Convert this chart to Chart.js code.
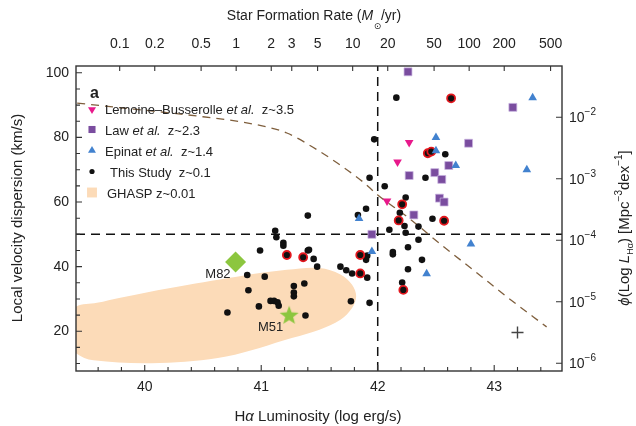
<!DOCTYPE html>
<html>
<head>
<meta charset="utf-8">
<script src="https://cdn.jsdelivr.net/npm/chart.js@4.4.0/dist/chart.umd.min.js"></script>
<style>
  html, body { margin: 0; padding: 0; background: #fff; }
  #wrap { width: 636px; height: 426px; }
</style>
</head>
<body>
<div id="wrap"><canvas id="chart" width="636" height="426"></canvas></div>
<script>
// ---- values ----
// This Study z~0.1 : log L(Halpha) vs local velocity dispersion (km/s)
const studyLum = [42.16, 41.97, 42.58, 41.93, 42.41, 42.06, 42.24, 41.90, 41.83, 42.19,
                  42.47, 42.23, 42.35, 42.10, 42.24, 42.35, 42.26, 42.13, 42.13, 41.91,
                  41.90, 42.38, 41.68, 41.73, 41.78, 41.91, 42.26, 42.21, 41.77, 41.93,
                  41.40, 41.12, 41.13, 41.19, 41.19, 40.99, 41.40, 41.41, 41.45, 41.48,
                  40.88, 41.03, 40.89, 41.28, 41.28, 41.28, 41.37, 41.08, 41.11, 41.14,
                  41.15, 40.98, 40.71, 41.38];
const studySigma = [92.3, 79.4, 74.8, 67.5, 67.5, 64.9, 61.4, 57.9, 56.0, 56.7,
                    54.8, 52.6, 52.4, 51.4, 50.5, 48.3, 46.0, 44.5, 43.8, 43.4,
                    42.1, 42.1, 40.0, 38.9, 37.9, 36.6, 39.2, 35.1, 29.3, 28.8,
                    55.8, 51.1, 49.1, 47.4, 46.5, 45.0, 45.0, 45.2, 42.4, 40.0,
                    37.4, 36.9, 32.7, 34.0, 32.0, 30.8, 34.8, 29.4, 29.4, 29.0,
                    27.9, 27.7, 25.8, 24.9];
// This Study points circled in red
const ringLum = [42.63, 42.43, 42.46, 42.21, 42.18, 42.57, 41.85, 41.85, 42.22, 41.22, 41.36];
const ringSigma = [92.1, 75.1, 75.6, 59.3, 54.3, 54.2, 43.6, 37.9, 32.8, 43.6, 42.9];
// Lemoine-Busserolle et al. z~3.5
const lemoineLum = [42.27, 42.17, 42.08];
const lemoineSigma = [78.4, 72.4, 60.3];
// Law et al. z~2.3
const lawLum = [42.26, 43.16, 42.78, 42.61, 42.27, 42.49, 42.55, 42.53, 42.57, 42.31, 41.95];
const lawSigma = [100.3, 89.3, 78.2, 71.3, 68.2, 69.1, 67.0, 61.2, 60.0, 56.0, 50.0];
// Epinat et al. z~1.4
const epinatLum = [42.50, 42.50, 42.67, 43.33, 43.28, 41.84, 42.80, 41.95, 42.42];
const epinatSigma = [80.0, 75.9, 71.3, 92.3, 70.0, 54.9, 47.0, 44.7, 37.8];
// GHASP z~0.01 region outline
const ghaspLum = [39.20, 39.41, 39.59, 39.79, 40.22, 40.79, 41.22, 41.50, 41.68, 41.78,
                  41.815, 41.78, 41.68, 41.50, 41.27, 40.70, 40.13, 39.56, 39.41, 39.20];
const ghaspSigma = [20.5, 27.6, 28.8, 30.4, 33.4, 36.9, 39.0, 39.6, 37.6, 34.4,
                    30.8, 27.2, 23.6, 20.5, 18.0, 12.2, 10.2, 11.0, 13.2, 20.5];
// local galaxies
const m82Lum = [40.78], m82Sigma = [41.4];
const m51Lum = [41.24], m51Sigma = [24.8];
// typical error bar
const errLum = [43.20], errSigma = [19.6];
// Halpha luminosity function (right axis)
const lfLum = [39.42, 39.79, 40.07, 40.50, 40.93, 41.22, 41.48, 41.65, 41.87, 42.00,
               42.25, 42.58, 42.84, 43.11, 43.45];
const lfPhi = [1.70e-2, 1.43e-2, 1.26e-2, 1.02e-2, 7.78e-3, 5.55e-3, 2.96e-3, 1.82e-3, 9.02e-4, 5.47e-4,
               2.43e-4, 7.48e-5, 3.08e-5, 1.20e-5, 3.91e-6];
// reference cuts
const lumCut = 42;
const sigmaCut = 50;
// ticks
const lumTicks = [40, 41, 42, 43];
const sigmaTicks = [20, 40, 60, 80, 100];
const phiTicks = [1e-2, 1e-3, 1e-4, 1e-5, 1e-6];
const sfrTicks = [0.1, 0.2, 0.5, 1, 2, 3, 5, 10, 20, 50, 100, 200, 500];
const sfrLabels = ['0.1', '0.2', '0.5', '1', '2', '3', '5', '10', '20', '50', '100', '200', '500'];
const sfrZeroLum = 40.785; // log L(Halpha) for 1 Msun/yr

// axis ranges
const lumMin = 39.41, lumMax = 43.582;
const sigMin = 7.7, sigMax = 102.1;
const phiMin = Math.pow(10, -6.125), phiMax = Math.pow(10, -1.166);

const FONT = '"Liberation Sans", Arial, Helvetica, sans-serif';
const TXT = '#222';
const PINK = '#e8198b', PURPLE = '#7a4d9f', BLUE = '#4282cf', GREEN = '#8cc63f';
const PEACH = '#fcdbb8', BROWN = '#7f5f3d', RED = '#e3171e';

const pts = (xs, ys) => xs.map((x, i) => ({x, y: ys[i]}));
const f = (size, style) => (style || '') + ' ' + size + 'px ' + FONT;

function starCanvas(r, color){
  const s = Math.ceil(r * 2 + 2);
  const c = document.createElement('canvas');
  c.width = s; c.height = s;
  const g = c.getContext('2d');
  g.beginPath();
  for (let i = 0; i < 10; i++){
    const a = -Math.PI / 2 + i * Math.PI / 5;
    const rr = i % 2 === 0 ? r : r * 0.42;
    g.lineTo(s / 2 + rr * Math.cos(a), s / 2 + rr * Math.sin(a));
  }
  g.closePath();
  g.fillStyle = color;
  g.fill();
  return c;
}

function drawRich(ctx, segs, x, y, align){
  let w = 0;
  segs.forEach(s => { ctx.font = f(s[1], s[2]); w += ctx.measureText(s[0]).width; });
  let cx = align === 'center' ? x - w / 2 : (align === 'right' ? x - w : x);
  segs.forEach(s => {
    ctx.font = f(s[1], s[2]);
    ctx.fillText(s[0], cx, y + (s[3] || 0));
    cx += ctx.measureText(s[0]).width;
  });
}

function marker(ctx, style, r, rot, color, x, y){
  ctx.save();
  ctx.fillStyle = color;
  ctx.strokeStyle = color;
  Chart.helpers.drawPoint(ctx, {pointStyle: style, radius: r, rotation: rot, borderWidth: 0}, x, y);
  ctx.restore();
}

const decor = {
  id: 'decor',
  afterDraw(chart){
    const ctx = chart.ctx;
    const a = chart.chartArea;
    const sx = chart.scales.x, sx2 = chart.scales.x2, sy = chart.scales.y, sy2 = chart.scales.y2;
    ctx.save();

    // frame
    ctx.strokeStyle = '#333';
    ctx.lineWidth = 1.4;
    ctx.strokeRect(a.left, a.top, a.right - a.left, a.bottom - a.top);

    // inward ticks
    ctx.lineWidth = 1.1;
    ctx.beginPath();
    for (let v = 39.6; v < lumMax; v += 0.2){
      const p = sx.getPixelForValue(v);
      const major = Math.abs(v - Math.round(v)) < 0.01;
      ctx.moveTo(p, a.bottom); ctx.lineTo(p, a.bottom - (major ? 6 : 4));
    }
    for (let v = 10; v <= 100; v += 5){
      const p = sy.getPixelForValue(v);
      const major = v % 20 === 0;
      ctx.moveTo(a.left, p); ctx.lineTo(a.left + (major ? 6 : 4), p);
    }
    sfrTicks.forEach(v => {
      const p = sx2.getPixelForValue(Math.log10(v));
      ctx.moveTo(p, a.top); ctx.lineTo(p, a.top + 5);
    });
    phiTicks.forEach(v => {
      const p = sy2.getPixelForValue(v);
      ctx.moveTo(a.right, p); ctx.lineTo(a.right - 6, p);
    });
    ctx.stroke();

    ctx.fillStyle = TXT;
    ctx.textBaseline = 'alphabetic';

    // right axis labels 10^n
    phiTicks.forEach(v => {
      const p = sy2.getPixelForValue(v);
      const e = Math.round(Math.log10(v));
      drawRich(ctx, [['10', 14], ['\u2212' + (-e), 10, '', -7]], a.right + 7, p + 5, 'left');
    });

    // axis titles
    drawRich(ctx, [['H', 15], ['\u03b1', 15, 'italic'], [' Luminosity (log erg/s)', 15]], 318, 421, 'center');
    drawRich(ctx, [['Star Formation Rate (', 14], ['M', 14, 'italic'], ['  ', 14], ['/yr)', 14]], 314, 20, 'center');
    // sun symbol subscript
    const wTop = ['Star Formation Rate (', 'M', '  ', '/yr)'].reduce((s, t, i) => {
      ctx.font = f(14, i === 1 ? 'italic' : ''); return s + ctx.measureText(t).width; }, 0);
    ctx.font = f(14);
    const wPre = ctx.measureText('Star Formation Rate (').width;
    ctx.font = f(14, 'italic');
    const wM = ctx.measureText('M').width;
    ctx.font = '9px "DejaVu Sans", sans-serif';
    ctx.textAlign = 'left';
    ctx.fillText('\u2299', 314 - wTop / 2 + wPre + wM + 0.5, 29);

    ctx.save();
    ctx.translate(22, 218);
    ctx.rotate(-Math.PI / 2);
    drawRich(ctx, [['Local velocity dispersion (km/s)', 15]], 0, 0, 'center');
    ctx.restore();

    ctx.save();
    ctx.translate(629, 228);
    ctx.rotate(-Math.PI / 2);
    drawRich(ctx, [['\u03d5', 15, 'italic'], ['(Log ', 15], ['L', 15, 'italic'], ['H\u03b1', 9, '', 4],
                   [') [Mpc', 15], ['\u22123', 10, '', -7], ['dex', 15], ['\u22121', 10, '', -7], [']', 15]],
             0, 0, 'center');
    ctx.restore();

    // panel letter
    ctx.font = f(16, 'bold');
    ctx.fillText('a', 90, 98);

    // legend
    const rows = [
      {draw: (x, y) => marker(ctx, 'triangle', 4.6, 180, PINK, x, y + 1),
       segs: [['Lemoine\u2013Busserolle ', 13], ['et al.', 13, 'italic'], ['  z~3.5', 13]], tx: 105},
      {draw: (x, y) => marker(ctx, 'rect', 5, 0, PURPLE, x, y),
       segs: [['Law ', 13], ['et al.', 13, 'italic'], ['  z~2.3', 13]], tx: 105},
      {draw: (x, y) => marker(ctx, 'triangle', 4.6, 0, BLUE, x, y),
       segs: [['Epinat ', 13], ['et al.', 13, 'italic'], ['  z~1.4', 13]], tx: 105},
      {draw: (x, y) => marker(ctx, 'circle', 2.6, 0, '#111', x, y),
       segs: [['This Study  z~0.1', 13]], tx: 110},
      {draw: (x, y) => marker(ctx, 'rect', 7, 0, PEACH, x, y),
       segs: [['GHASP z~0.01', 13]], tx: 107}
    ];
    rows.forEach((r, i) => {
      const y = 108.5 + i * 21;
      r.draw(92, y);
      ctx.fillStyle = TXT;
      drawRich(ctx, r.segs, r.tx, y + 5, 'left');
    });

    // galaxy labels
    ctx.fillStyle = TXT;
    const p82 = {x: sx.getPixelForValue(m82Lum[0]), y: sy.getPixelForValue(m82Sigma[0])};
    const p51 = {x: sx.getPixelForValue(m51Lum[0]), y: sy.getPixelForValue(m51Sigma[0])};
    drawRich(ctx, [['M82', 13]], p82.x - 5, p82.y + 16, 'right');
    drawRich(ctx, [['M51', 13]], p51.x - 6, p51.y + 15, 'right');

    ctx.restore();
  }
};

const datasets = [
  {label: 'M82', data: pts(m82Lum, m82Sigma), pointStyle: 'rectRot', pointRadius: 10.5,
   backgroundColor: GREEN, borderWidth: 0, order: 0},
  {label: 'M51', data: pts(m51Lum, m51Sigma), pointStyle: starCanvas(10, GREEN), pointRadius: 10, order: 0},
  {label: 'error', data: pts(errLum, errSigma), pointStyle: 'cross', pointRadius: 6,
   borderColor: '#444', borderWidth: 1.4, order: 0},
  {label: 'Lemoine', data: pts(lemoineLum, lemoineSigma), pointStyle: 'triangle', rotation: 180,
   pointRadius: 5, backgroundColor: PINK, borderWidth: 0, order: 1},
  {label: 'Epinat', data: pts(epinatLum, epinatSigma), pointStyle: 'triangle',
   pointRadius: 5, backgroundColor: BLUE, borderWidth: 0, order: 1},
  {label: 'Law', data: pts(lawLum, lawSigma), pointStyle: 'rect',
   pointRadius: 5.6, backgroundColor: PURPLE, borderColor: 'rgba(200,180,225,0.9)', borderWidth: 0.8, order: 2},
  {label: 'Study ringed', data: pts(ringLum, ringSigma), pointStyle: 'circle', pointRadius: 4,
   backgroundColor: '#111', borderColor: RED, borderWidth: 1.8, order: 2},
  {label: 'This Study', data: pts(studyLum, studySigma), pointStyle: 'circle', pointRadius: 3.3,
   backgroundColor: '#111', borderWidth: 0, order: 3},
  {label: 'LF', data: pts(lfLum, lfPhi), yAxisID: 'y2', showLine: true, pointRadius: 0,
   borderColor: BROWN, borderWidth: 1.3, borderDash: [8, 6], cubicInterpolationMode: 'monotone', order: 4},
  {label: 'cut L', data: [{x: lumCut, y: sigMin}, {x: lumCut, y: sigMax}], showLine: true, pointRadius: 0,
   borderColor: '#111', borderWidth: 1.5, borderDash: [9, 6], order: 5},
  {label: 'cut sigma', data: [{x: lumMin, y: sigmaCut}, {x: lumMax, y: sigmaCut}], showLine: true, pointRadius: 0,
   borderColor: '#111', borderWidth: 1.5, borderDash: [9, 6], order: 5},
  {label: 'GHASP', data: pts(ghaspLum, ghaspSigma), showLine: true, fill: 'shape', tension: 0.35,
   pointRadius: 0, borderWidth: 0, borderColor: PEACH, backgroundColor: PEACH, order: 10}
];

const tickFont = {family: FONT, size: 14};

new Chart(document.getElementById('chart'), {
  type: 'scatter',
  data: {datasets},
  options: {
    responsive: false,
    animation: false,
    layout: {padding: 0},
    plugins: {legend: {display: false}, tooltip: {enabled: false}},
    scales: {
      x: {
        type: 'linear', position: 'bottom', min: lumMin, max: lumMax,
        afterBuildTicks: s => { s.ticks = lumTicks.map(v => ({value: v})); },
        ticks: {font: tickFont, color: TXT, padding: 8, maxRotation: 0, autoSkip: false,
                callback: v => String(v)},
        grid: {display: false, drawTicks: false}, border: {display: false},
        afterFit: s => { s.height = 55; }
      },
      x2: {
        type: 'linear', position: 'top', min: lumMin - sfrZeroLum, max: lumMax - sfrZeroLum,
        afterBuildTicks: s => { s.ticks = sfrTicks.map(v => ({value: Math.log10(v)})); },
        ticks: {font: tickFont, color: TXT, padding: 13, maxRotation: 0, minRotation: 0, autoSkip: false,
                callback: (v, i) => sfrLabels[i]},
        grid: {display: false, drawTicks: false}, border: {display: false},
        afterFit: s => { s.height = 66; }
      },
      y: {
        type: 'linear', position: 'left', min: sigMin, max: sigMax,
        afterBuildTicks: s => { s.ticks = sigmaTicks.map(v => ({value: v})); },
        ticks: {font: tickFont, color: TXT, padding: 7, autoSkip: false, callback: v => String(v)},
        grid: {display: false, drawTicks: false}, border: {display: false},
        afterFit: s => { s.width = 76; }
      },
      y2: {
        type: 'logarithmic', position: 'right', min: phiMin, max: phiMax,
        afterBuildTicks: s => { s.ticks = phiTicks.map(v => ({value: v})); },
        ticks: {display: false},
        grid: {display: false, drawTicks: false}, border: {display: false},
        afterFit: s => { s.width = 74; }
      }
    }
  },
  plugins: [decor]
});
</script>
</body>
</html>
